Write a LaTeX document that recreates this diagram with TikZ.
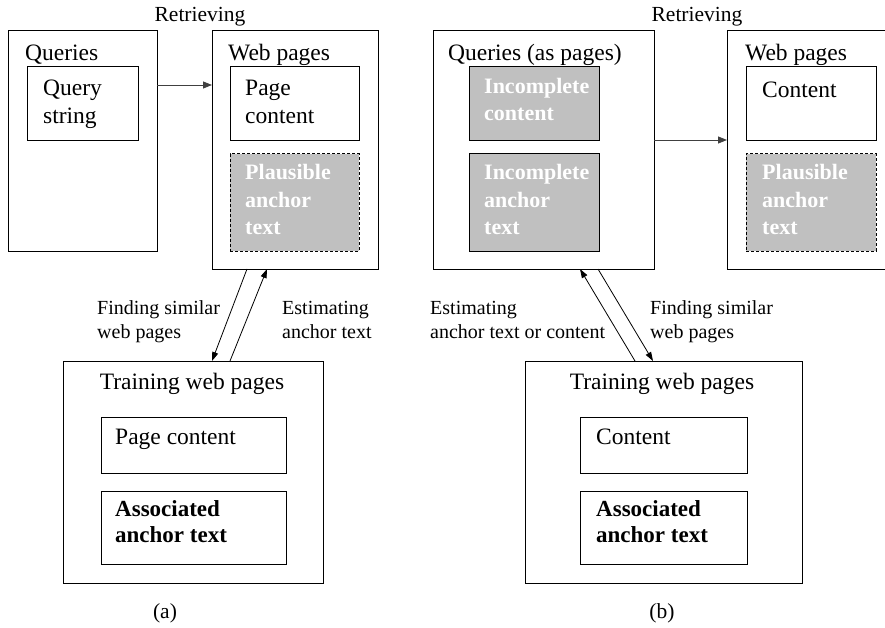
\documentclass[tikz,border=0pt]{standalone}
\usepackage{fontspec}
\setmainfont{Liberation Serif}
\usetikzlibrary{arrows.meta,calc}
\definecolor{fillgray}{HTML}{C0C0C0}
\definecolor{linegray}{HTML}{404040}
\begin{document}
\begin{tikzpicture}[x=1pt,y=-1pt,
 box/.style={draw=black, line width=1pt, inner sep=0pt, outer sep=0pt, anchor=north west},
 graybox/.style={box, fill=fillgray},
 dashbox/.style={box, fill=fillgray, dash pattern=on 3pt off 2pt},
 txt/.style={inner sep=0pt, anchor=base west, align=left, font=\fontsize{23.5}{28}\selectfont},
 wtxt/.style={inner sep=0pt, anchor=base west, align=left, text=white, font=\fontsize{22}{27.5}\selectfont\bfseries},
 btxt/.style={inner sep=0pt, anchor=base west, align=left, font=\fontsize{23}{26}\selectfont\bfseries},
 lbl/.style={inner sep=0pt, anchor=base west, align=left, font=\fontsize{20}{24}\selectfont},
 ttl/.style={inner sep=0pt, anchor=base, font=\fontsize{21.5}{24}\selectfont},
 arr/.style={-{Triangle[length=9pt,width=7pt]}, line width=0.9pt, draw=linegray},
 darr/.style={-{Triangle[length=9pt,width=6pt]}, line width=0.8pt, draw=black},
]
\useasboundingbox (0,0) rectangle (885,628);

% multi-line nodes: anchor=base west refers to the LAST line's baseline

% ---------------- (a) ----------------
\node[ttl] (reta) at (200,22) {Retrieving};
\node[box, minimum width=149, minimum height=220] (qbox) at (8,31) {};
\node[txt] (qlab) at (25,61) {Queries};
\node[box, minimum width=111, minimum height=74] (qsbox) at (27,67) {};
\node[txt] (qstxt) at (43,124) {Query\\string};

\node[box, minimum width=166, minimum height=238] (wpbox) at (212,31) {};
\node[txt] (wplab) at (228,61) {Web pages};
\node[box, minimum width=129, minimum height=74] (pcbox) at (230,67) {};
\node[txt] (pctxt) at (245,124) {Page\\content};
\node[dashbox, minimum width=129, minimum height=97] (plbox) at (230,154) {};
\node[wtxt] (pltxt) at (245,235) {Plausible\\anchor\\text};

\node[box, minimum width=260, minimum height=222] (trbox) at (63,361) {};
\node[txt, anchor=base] (trlab) at (192,389) {Training web pages};
\node[box, minimum width=185, minimum height=56] (tpcbox) at (101,417) {};
\node[txt] (tpctxt) at (115,444) {Page content};
\node[box, minimum width=185, minimum height=73] (tasbox) at (101,491) {};
\node[btxt] (tastxt) at (115,542) {Associated\\anchor text};

\node[lbl] (fsa) at (97,338) {Finding similar\\web pages};
\node[lbl] (eaa) at (282,338) {Estimating\\anchor text};
\node[ttl, anchor=center] (capa) at (165,613) {(a)};

\draw[arr] ($(qbox.north east)+(0,54)$) -- ($(wpbox.north west)+(0,54)$);
\coordinate (a1s) at ($(wpbox.south west)+(35,0)$);
\coordinate (a1e) at ($(trbox.north west)+(149,0)$);
\coordinate (a2s) at ($(trbox.north west)+(167,0)$);
\coordinate (a2e) at ($(wpbox.south west)+(55,0)$);
\draw[darr] (a1s) -- (a1e);
\draw[darr] (a2s) -- (a2e);

% ---------------- (b) ----------------
\node[ttl] (retb) at (697,22) {Retrieving};
\node[box, minimum width=221, minimum height=238] (qpbox) at (433,31) {};
\node[txt] (qplab) at (448,61) {Queries (as pages)};
\node[graybox, minimum width=130, minimum height=74] (icbox) at (469,67) {};
\node[wtxt] (ictxt) at (484,121) {Incomplete\\content};
\node[graybox, minimum width=130, minimum height=97] (iabox) at (469,154) {};
\node[wtxt] (iatxt) at (484,235) {Incomplete\\anchor\\text};

\node[box, minimum width=165, minimum height=238] (wp2box) at (727,31) {};
\node[txt] (wp2lab) at (745,61) {Web pages};
\node[box, minimum width=130, minimum height=74] (cbox) at (746,67) {};
\node[txt] (ctxt) at (762,98) {Content};
\node[dashbox, minimum width=130, minimum height=97] (pl2box) at (746,154) {};
\node[wtxt] (pl2txt) at (762,235) {Plausible\\anchor\\text};

\node[box, minimum width=277, minimum height=222] (tr2box) at (525,361) {};
\node[txt, anchor=base] (tr2lab) at (662,389) {Training web pages};
\node[box, minimum width=167, minimum height=56] (tc2box) at (580,417) {};
\node[txt] (tc2txt) at (596,444) {Content};
\node[box, minimum width=167, minimum height=73] (ta2box) at (580,491) {};
\node[btxt] (ta2txt) at (596,542) {Associated\\anchor text};

\node[lbl] (eab) at (430,338) {Estimating\\anchor text or content};
\node[lbl] (fsb) at (650,338) {Finding similar\\web pages};
\node[ttl, anchor=center] (capb) at (662,613) {(b)};

\draw[arr] ($(qpbox.north east)+(0,109)$) -- ($(wp2box.north west)+(0,109)$);
\coordinate (b1s) at ($(tr2box.north west)+(110,0)$);
\coordinate (b1e) at ($(qpbox.south west)+(147,0)$);
\coordinate (b2s) at ($(qpbox.south west)+(165,0)$);
\coordinate (b2e) at ($(tr2box.north west)+(128,0)$);
\draw[darr] (b1s) -- (b1e);
\draw[darr] (b2s) -- (b2e);
\end{tikzpicture}
\end{document}
